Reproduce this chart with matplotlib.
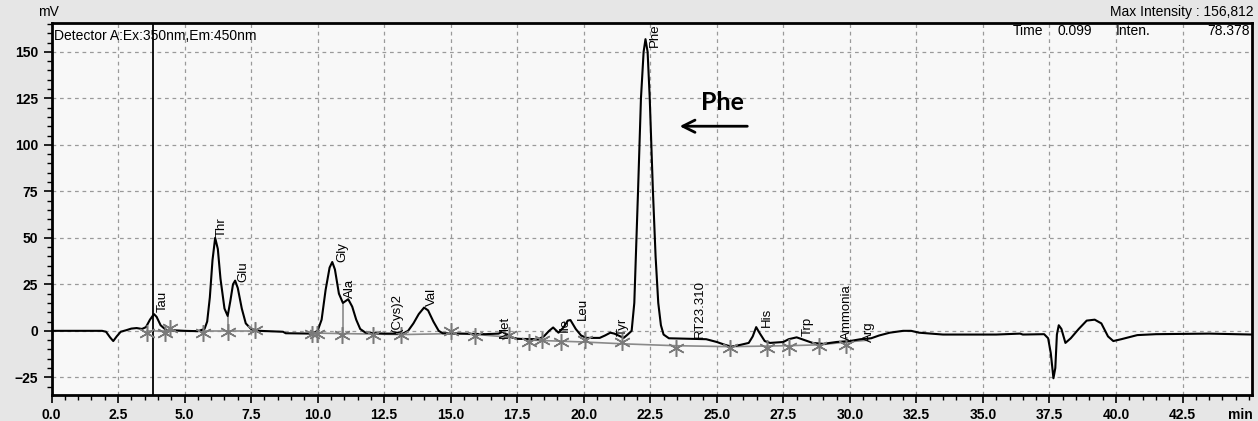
import numpy as np
import matplotlib.pyplot as plt
from matplotlib.ticker import MultipleLocator

plt.rc('font', family='Liberation Sans', size=10)

# chromatogram trace (min, mV)
time = [0.0, 1.9, 2.05, 2.2, 2.32, 2.45, 2.6, 2.8, 3.0, 3.2, 3.4, 3.55, 3.7, 3.85, 3.95,
        4.1, 4.3, 4.6, 5.0, 5.5, 5.75, 5.85, 5.95, 6.05, 6.15, 6.25, 6.35, 6.5, 6.62,
        6.72, 6.82, 6.9, 7.0, 7.15, 7.3, 7.5, 7.8, 8.7, 8.8, 9.8, 10.0, 10.15, 10.3,
        10.45, 10.55, 10.65, 10.8, 10.95, 11.15, 11.3, 11.45, 11.6, 11.8, 12.5, 13.2,
        13.4, 13.6, 13.8, 14.0, 14.15, 14.35, 14.55, 14.7, 15.5, 16.3, 16.8, 16.95,
        17.1, 17.3, 17.5, 18.3, 18.5, 18.7, 18.85, 19.05, 19.25, 19.4, 19.5, 19.7,
        19.9, 20.1, 20.6, 20.8, 21.0, 21.15, 21.3, 21.5, 21.65, 21.8, 21.9, 22.04,
        22.15, 22.25, 22.32, 22.4, 22.48, 22.6, 22.7, 22.8, 22.9, 23.0, 23.2, 24.6,
        25.0, 25.3, 25.55, 25.9, 26.2, 26.35, 26.48, 26.6, 26.8, 27.0, 27.5, 27.7,
        28.0, 28.3, 28.6, 29.0, 29.5, 30.0, 30.4, 30.8, 31.1, 31.5, 32.0, 32.3, 32.6,
        33.5, 34.5, 35.5, 36.4, 36.5, 37.3, 37.45, 37.55, 37.65, 37.72, 37.78, 37.85,
        37.95, 38.1, 38.3, 38.6, 38.9, 39.2, 39.45, 39.7, 39.9, 40.2, 40.8, 41.5,
        43.5, 45.13]
signal = [0.0, 0.0, -0.5, -3.5, -5.5, -3.0, -0.5, 0.3, 1.2, 1.5, 1.0, 2.0, 6.0, 9.0, 7.5,
          3.0, 0.5, 0.3, 0.0, -0.2, 1.0, 5.0, 18.0, 38.0, 50.0, 44.0, 28.0, 12.0, 8.0,
          16.0, 25.0, 27.0, 23.0, 12.0, 4.0, 1.0, 0.0, -0.5, -1.3, -1.5, 0.0, 6.0, 22.0,
          34.0, 37.0, 33.0, 20.0, 15.0, 17.0, 13.0, 6.0, 1.0, -1.0, -1.5, -1.5,
          0.0, 4.0, 9.0, 12.5, 11.0, 5.0, 0.0, -1.3, -1.5, -1.8, -1.5, -0.5,
          -2.0, -3.5, -4.3, -4.5, -3.0, 0.0, 1.8, -1.0, 2.0, 5.5, 5.8, 1.0,
          -2.5, -3.8, -3.8, -2.5, -1.0, -1.5, -2.5, -3.8, -2.0, 0.0, 15.0, 75.0,
          125.0, 150.0, 156.8, 150.0, 125.0, 75.0, 40.0, 15.0, 3.0, -2.0, -4.0, -4.5,
          -6.0, -7.5, -8.5, -7.5, -6.5, -3.0, 2.0, -1.0, -5.5, -6.5, -6.0, -4.5,
          -3.5, -5.0, -6.5, -7.0, -6.0, -5.5, -4.5, -4.0, -2.5, -1.0, 0.0, 0.0, -1.0,
          -2.0, -2.0, -2.0, -1.5, -2.0, -1.8, -4.0, -12.0, -25.5, -20.0, -2.0, 3.0,
          1.0, -6.5, -4.0, 1.0, 5.5, 6.0, 4.0, -3.0, -5.5, -4.5, -2.3, -1.8,
          -1.5, -2.0]

# integration baselines
base1_t = [3.6, 7.7]
base1_v = [0.0, 0.0]
base2_t = [9.8, 11.0, 13.2, 15.0, 16.0, 17.1, 18.0, 20.0, 21.5, 23.45, 25.5, 27.7, 28.9, 29.9, 30.7]
base2_v = [-1.2, -1.5, -2.0, -1.5, -2.0, -3.3, -5.0, -6.0, -7.0, -8.0, -8.5, -8.0, -7.5, -6.0, -5.0]

# peak start/end markers
mark_t = [3.6, 4.27, 4.45, 5.68, 6.62, 7.65, 9.8, 9.98, 10.92, 12.08, 13.12, 15.02, 15.92,
          17.2, 17.95, 18.45, 19.15, 20.05, 21.45, 23.45, 25.5, 26.88, 27.7, 28.85, 29.85]
mark_v = [-1.0, -1.0, 1.5, -1.0, -0.5, 0.5, -1.5, -1.5, -2.0, -2.0, -2.0, 0.0, -3.0,
          -2.0, -6.0, -5.0, -6.0, -5.0, -6.0, -9.0, -9.0, -9.0, -8.5, -8.0, -7.5]

# valley drop lines
drop_t = [6.62, 10.95]
drop_lo = [0.0, -1.5]
drop_hi = [8.0, 15.0]

# peak names and label anchors
peak_names = ['Tau', 'Thr', 'Glu', 'Gly', 'Ala', '(Cys)2', 'Val', 'Met', 'Ile', 'Leu', 'Tyr',
              'Phe', 'RT23.310', 'His', 'Trp', 'Ammonia', 'Arg']
label_t = [4.19, 6.38, 7.2, 10.92, 11.22, 12.98, 14.3, 17.05, 19.27, 19.98, 21.45,
           22.69, 24.38, 26.9, 28.4, 29.9, 30.73]
label_v = [10.2, 50.5, 26.0, 37.0, 17.7, -1.0, 13.4, -3.8, -0.5, 6.0, -3.0,
           152.7, -3.8, 2.0, -2.7, -5.0, -6.0]

xticks = [0.0, 2.5, 5.0, 7.5, 10.0, 12.5, 15.0, 17.5, 20.0, 22.5, 25.0, 27.5, 30.0,
          32.5, 35.0, 37.5, 40.0, 42.5]
yticks = [-25, 0, 25, 50, 75, 100, 125, 150]

fig = plt.figure(figsize=(12.58, 4.21), dpi=100, facecolor='#e6e6e6')
ax = fig.add_axes([51.5 / 1258, 1 - 395 / 421, 1201 / 1258, 372 / 421])
ax.set_facecolor('#f8f8f8')

ax.plot(base1_t, base1_v, color='#8a8a8a', lw=1.2, zorder=2)
ax.plot(base2_t, base2_v, color='#8a8a8a', lw=1.2, zorder=2)
ax.vlines(drop_t, drop_lo, drop_hi, color='#8a8a8a', lw=1.2, zorder=2)
ax.plot(time, signal, color='black', lw=1.5, zorder=3)
ax.plot(mark_t, mark_v, ls='none', marker=(6, 2, 0), ms=12, mec='#7a7a7a', mew=1.1, zorder=4)

for name, t, v in zip(peak_names, label_t, label_v):
    ax.text(t, v, name, rotation=90, ha='center', va='bottom', fontsize=9.5, zorder=5)

# cursor line
ax.axvline(3.82, color='black', lw=1.3, zorder=3)

ax.set_xlim(0, 45.13)
ax.set_ylim(-34.5, 165.5)
ax.set_xticks(xticks)
ax.set_yticks(yticks)
ax.xaxis.set_minor_locator(MultipleLocator(0.5))
ax.yaxis.set_minor_locator(MultipleLocator(5))
ax.set_xticklabels(['%.1f' % x for x in xticks])
ax.tick_params(which='major', direction='out', length=6, width=1.2, labelsize=10)
ax.tick_params(which='minor', direction='out', length=3.5, width=1.0)
for lab in ax.get_xticklabels() + ax.get_yticklabels():
    lab.set_fontweight('bold')
ax.grid(True, which='major', ls=(0, (3, 3)), color='#9a9a9a', lw=0.9)
for s in ax.spines.values():
    s.set_linewidth(2)

ax.text(1.0, -0.035, 'min', transform=ax.transAxes, ha='right', va='top',
        fontsize=10, fontweight='bold')
fig.text(48 / 1258, 1 - 12 / 421, 'mV', ha='center', va='center', fontsize=10)
fig.text(1254 / 1258, 1 - 12 / 421, 'Max Intensity : 156,812', ha='right', va='center', fontsize=10)
ax.text(0.002, 0.985, 'Detector A:Ex:350nm,Em:450nm', transform=ax.transAxes,
        ha='left', va='top', fontsize=10)
info_y = 1 - 31 / 421
for txt, xp, align in [('Time', 1043, 'right'), ('0.099', 1058, 'left'),
                       ('Inten.', 1116, 'left'), ('78.378', 1250, 'right')]:
    ax.text(xp / 1258, info_y, txt, transform=fig.transFigure, ha=align, va='center',
            fontsize=10, zorder=6)

# Phe annotation
ax.text(25.2, 122.5, 'Phe', family='Lato', fontweight='bold', fontsize=18,
        ha='center', va='center')
ax.annotate('', xy=(23.5, 110), xytext=(26.25, 110),
            arrowprops=dict(arrowstyle='->', lw=2, color='black', mutation_scale=22))

fig.savefig('out.png', dpi=100, facecolor=fig.get_facecolor())
